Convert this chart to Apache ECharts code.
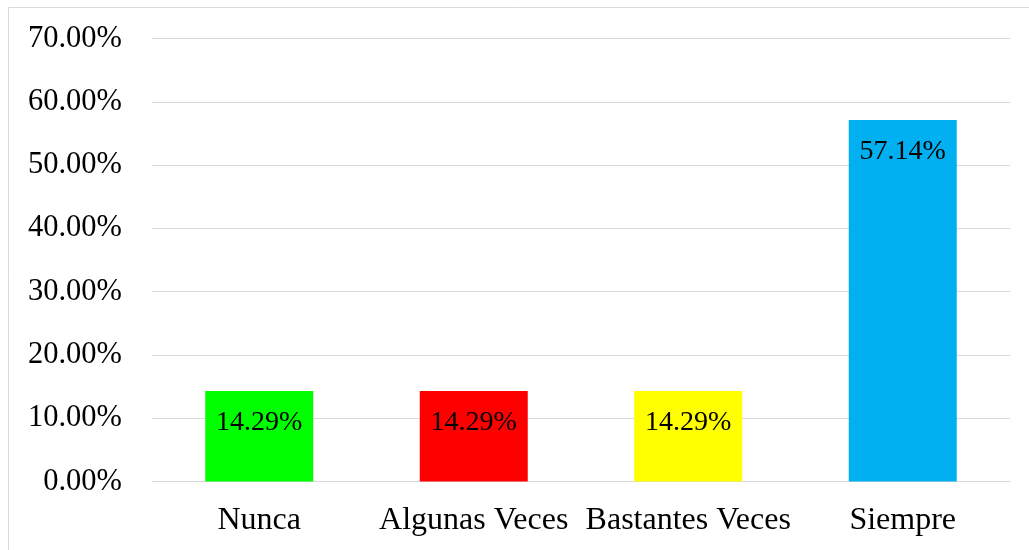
<!DOCTYPE html>
<html>
<head>
<meta charset="utf-8">
<script src="https://cdn.jsdelivr.net/npm/echarts@6/dist/echarts.min.js"></script>
<style>html,body{margin:0;padding:0;background:#fff;}#c{width:1029px;height:550px;}</style>
</head>
<body>
<div id="c"></div>
<script>
const categories = ['Nunca', 'Algunas Veces', 'Bastantes Veces', 'Siempre'];
const values = [14.29, 14.29, 14.29, 57.14];
const barColors = ['#00FF00', '#FF0000', '#FFFF00', '#00B0F0'];
const yTicks = [0, 10, 20, 30, 40, 50, 60, 70];

const chart = echarts.init(document.getElementById('c'), null, {renderer: 'canvas'});
const font = '"Liberation Serif", "Times New Roman", serif';
chart.setOption({
  animation: false,
  textStyle: {fontFamily: font},
  graphic: [{
    type: 'rect', silent: true, z: -10,
    shape: {x: 8.5, y: 7.5, width: 1040, height: 560},
    style: {fill: 'none', stroke: '#d9d9d9', lineWidth: 1}
  }],
  grid: {left: 152, right: 19, top: 38.5, bottom: 68.5, containLabel: false},
  xAxis: {
    type: 'category',
    data: categories,
    axisLine: {show: true, lineStyle: {color: '#d9d9d9', width: 1}},
    axisTick: {show: false},
    axisLabel: {color: '#000', fontSize: 32, fontFamily: font, margin: 23, interval: 0}
  },
  yAxis: {
    type: 'value',
    min: yTicks[0], max: yTicks[yTicks.length - 1], interval: 10,
    axisLine: {show: false},
    axisTick: {show: false},
    splitLine: {lineStyle: {color: '#d9d9d9', width: 1}},
    axisLabel: {color: '#000', fontSize: 30.5, fontFamily: font, margin: 30,
      formatter: v => v.toFixed(2) + '%'}
  },
  series: [{
    type: 'bar',
    barWidth: 108,
    data: values.map((v, i) => ({value: v, itemStyle: {color: barColors[i]}})),
    label: {
      show: true, position: 'insideTop', distance: 18,
      color: '#000', fontSize: 28, fontFamily: font,
      formatter: p => p.value.toFixed(2) + '%'
    }
  }]
});
</script>
</body>
</html>
